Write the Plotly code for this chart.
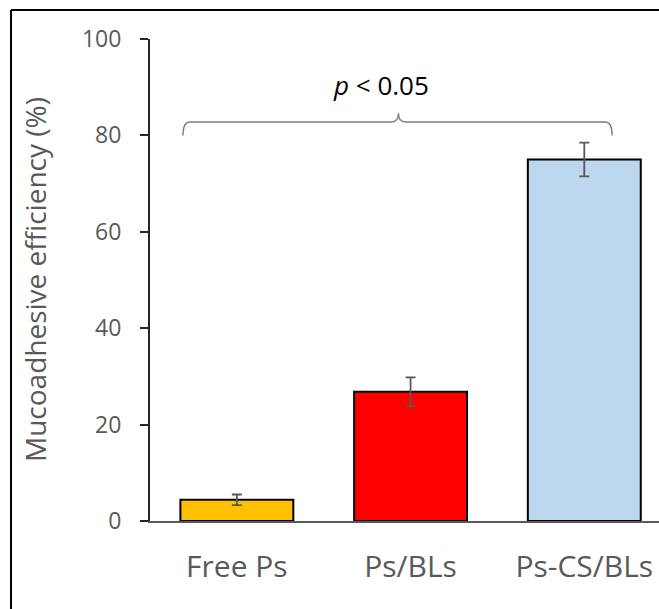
import plotly.graph_objects as go

categories = ["Free Ps", "Ps/BLs", "Ps-CS/BLs"]
values = [4.4, 26.8, 75.0]
errors = [1.1, 3.0, 3.5]
colors = ["#FFC000", "#FF0000", "#BDD7EE"]
y_ticks = [0, 20, 40, 60, 80, 100]

W, H = 659, 609
L, R, T, B = 150, 0, 39, 88
pw, ph = W - L - R, H - T - B

def px2paper_x(px):
    return (px - L) / pw

def px2paper_y(py):
    return (H - B - py) / ph

fig = go.Figure()
fig.add_trace(go.Bar(
    x=categories, y=values,
    marker=dict(color=colors, line=dict(color="#000000", width=2)),
    width=0.65,
    error_y=dict(type="data", array=errors, visible=True,
                 color="#595959", thickness=1.8, width=5),
    showlegend=False,
))

# significance brace (data coordinates: between first and last category)
xl, xm, xr = -0.31, 0.93, 2.16
yb, yl, yt = 80.0, 82.8, 84.6
dx = 0.04
brace = (f"M {xl},{yb} Q {xl},{yl} {xl+dx},{yl} "
         f"L {xm-dx},{yl} Q {xm},{yl} {xm},{yt} "
         f"Q {xm},{yl} {xm+dx},{yl} "
         f"L {xr-dx},{yl} Q {xr},{yl} {xr},{yb}")
fig.add_shape(type="path", path=brace, xref="x", yref="y",
              line=dict(color="#7F7F7F", width=1.5))

fig.add_annotation(x=0.83, y=90.5, xref="x", yref="y",
                   text="<i>p</i> < 0.05", showarrow=False,
                   font=dict(family="Open Sans", size=26, color="#000000"),
                   xanchor="center", yanchor="middle")

# y axis title
fig.add_annotation(x=px2paper_x(35), y=0.5, xref="paper", yref="paper",
                   text="Mucoadhesive efficiency (%)", textangle=-90,
                   showarrow=False,
                   font=dict(family="Open Sans", size=28, color="#595959"),
                   xanchor="center", yanchor="middle")

# outer frame lines (top and left)
fig.add_shape(type="line", xref="paper", yref="paper",
              x0=px2paper_x(11), x1=px2paper_x(660), y0=px2paper_y(10), y1=px2paper_y(10),
              line=dict(color="#000000", width=2))
fig.add_shape(type="line", xref="paper", yref="paper",
              x0=px2paper_x(11), x1=px2paper_x(11), y0=px2paper_y(10), y1=px2paper_y(610),
              line=dict(color="#000000", width=2))

fig.update_layout(
    width=W, height=H,
    margin=dict(l=L, r=R, t=T, b=B, pad=0),
    paper_bgcolor="white", plot_bgcolor="white",
    hovermode=False,
    xaxis=dict(
        range=[-0.5, 2.43],
        showline=True, linecolor="#595959", linewidth=2,
        ticks="outside", ticklen=18, tickcolor="rgba(0,0,0,0)",
        tickfont=dict(family="Open Sans", size=30, color="#595959"),
        showgrid=False, zeroline=False,
    ),
    yaxis=dict(
        range=[0, 100], tickvals=y_ticks,
        showline=True, linecolor="#262626", linewidth=2,
        ticks="outside", ticklen=8, tickwidth=2, tickcolor="#262626",
        ticklabelstandoff=14,
        tickfont=dict(family="Open Sans", size=23, color="#595959"),
        showgrid=False, zeroline=False,
    ),
)

fig.write_html(
    "out.html",
    config={"displayModeBar": False, "staticPlot": True},
    post_script="document.body.style.margin='0';document.body.style.overflow='hidden';",
)
